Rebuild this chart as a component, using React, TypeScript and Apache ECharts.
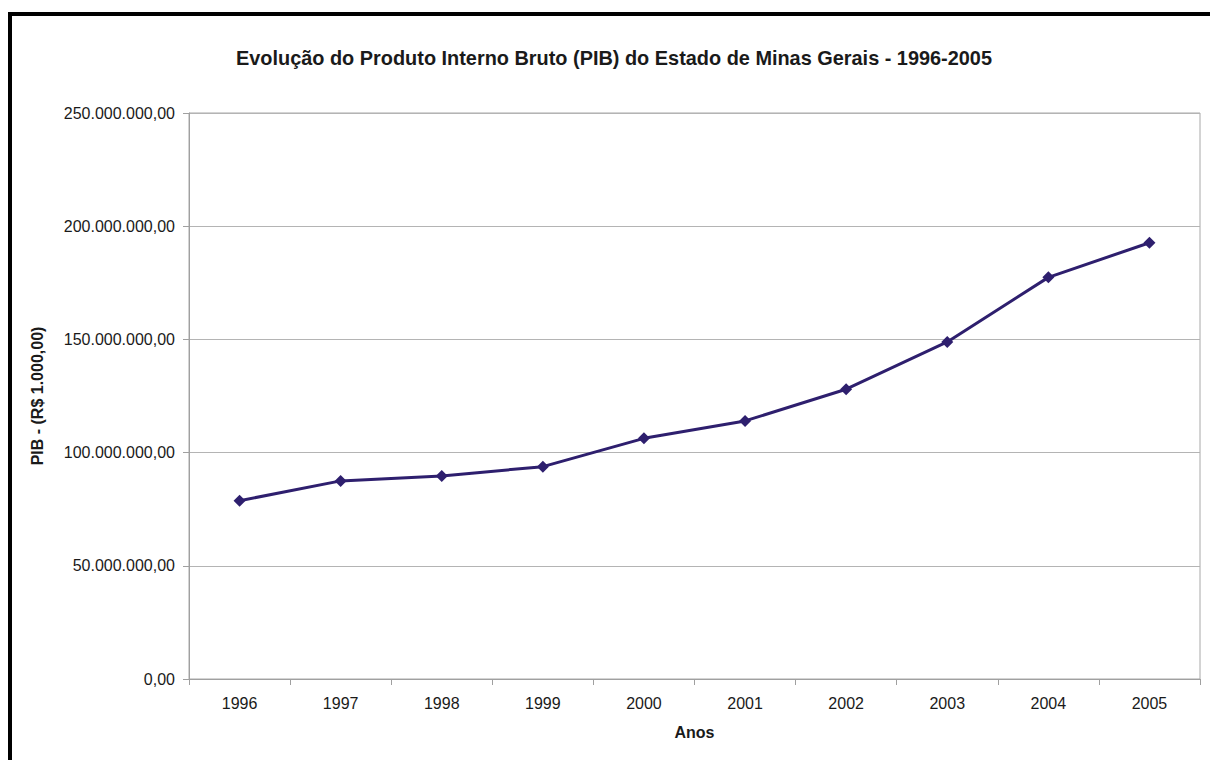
import React, { useEffect, useRef } from "react";
import * as echarts from "echarts";

const titleText = "Evolução do Produto Interno Bruto (PIB) do Estado de Minas Gerais - 1996-2005";
const yAxisName = "PIB - (R$ 1.000,00)";
const xAxisName = "Anos";
const years = ["1996", "1997", "1998", "1999", "2000", "2001", "2002", "2003", "2004", "2005"];
const pib = [78750000, 87500000, 89700000, 93800000, 106300000, 114000000, 128000000, 148900000, 177400000, 192700000];
const yMin = 0;
const yMax = 250000000;
const yStep = 50000000;

function fmtBR(v: number): string {
  const fixed = v.toFixed(2);
  const [intPart, dec] = fixed.split(".");
  const withDots = intPart.replace(/\B(?=(\d{3})+(?!\d))/g, ".");
  return withDots + "," + dec;
}

export default function App() {
  const ref = useRef<HTMLDivElement>(null);
  useEffect(() => {
    if (!ref.current) return;
    const chart = echarts.init(ref.current, null, { renderer: "svg" });
    const font = "'Liberation Sans', Arial, sans-serif";
    chart.setOption({
      animation: false,
      backgroundColor: "#ffffff",
      textStyle: { fontFamily: font },
      title: {
        text: titleText,
        left: 609,
        textAlign: "center",
        top: 43,
        textStyle: { fontFamily: font, fontSize: 19.9, fontWeight: "bold", color: "#1a1a1a" },
      },
      graphic: [
        {
          type: "rect",
          shape: { x: 10, y: 14, width: 1300, height: 900 },
          style: { fill: "none", stroke: "#000000", lineWidth: 4 },
          silent: true,
        },
      ],
      grid: {
        left: 189,
        top: 113,
        width: 1011,
        height: 566,
        show: true,
        borderColor: "#a8a8a8",
        borderWidth: 1,
        backgroundColor: "transparent",
      },
      xAxis: {
        type: "category",
        data: years,
        boundaryGap: true,
        name: xAxisName,
        nameLocation: "middle",
        nameGap: 45,
        nameTextStyle: { fontFamily: font, fontSize: 16, fontWeight: "bold", color: "#1a1a1a" },
        axisLine: { show: true, lineStyle: { color: "#a0a0a0", width: 1 } },
        axisTick: { show: true, length: 6, inside: false, lineStyle: { color: "#a0a0a0" } },
        axisLabel: { fontFamily: font, fontSize: 16, color: "#1a1a1a", margin: 16 },
        splitLine: { show: false },
      },
      yAxis: {
        type: "value",
        min: yMin,
        max: yMax,
        interval: yStep,
        name: yAxisName,
        nameLocation: "middle",
        nameGap: 144,
        nameRotate: 90,
        nameTextStyle: { fontFamily: font, fontSize: 16, fontWeight: "bold", color: "#1a1a1a" },
        axisLine: { show: true, lineStyle: { color: "#a0a0a0", width: 1 } },
        axisTick: { show: true, length: 6, inside: false, lineStyle: { color: "#a0a0a0" } },
        axisLabel: { fontFamily: font, fontSize: 16, color: "#1a1a1a", margin: 14, formatter: (v: number) => fmtBR(v) },
        splitLine: { show: true, lineStyle: { color: "#b4b4b4", width: 1 } },
      },
      series: [
        {
          type: "line",
          data: pib,
          symbol: "diamond",
          symbolSize: 12,
          lineStyle: { color: "#2e1f6e", width: 3 },
          itemStyle: { color: "#2e1f6e" },
        },
      ],
    });
    return () => chart.dispose();
  }, []);
  return <div ref={ref} style={{ position: "absolute", left: 0, top: 0, width: 1210, height: 760 }} />;
}
